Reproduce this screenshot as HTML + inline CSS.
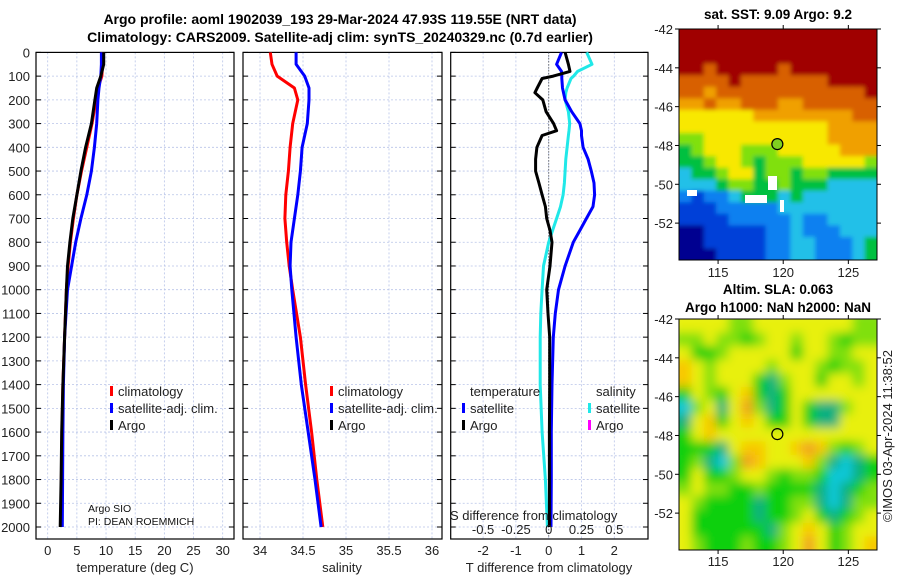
<!DOCTYPE html>
<html><head><meta charset="utf-8"><style>
body{margin:0;background:#fff;}
svg{display:block;font-family:"Liberation Sans","DejaVu Sans",sans-serif;}
</style></head><body>
<svg id="chart" width="900" height="580" viewBox="0 0 900 580" xmlns="http://www.w3.org/2000/svg">
<rect width="900" height="580" fill="#fff"/>
<text x="340" y="24" text-anchor="middle" font-size="14" font-weight="bold">Argo profile: aoml 1902039_193 29-Mar-2024 47.93S 119.55E (NRT data)</text>
<text x="340" y="42" text-anchor="middle" font-size="14" font-weight="bold">Climatology: CARS2009. Satellite-adj clim: synTS_20240329.nc (0.7d earlier)</text>
<g id="panels"></g>
<g id="maps"></g>
<text transform="translate(892,436) rotate(-90)" text-anchor="middle" font-size="13" fill="#222">©IMOS 03-Apr-2024 11:38:52</text>
</svg>
<script>
// ---------- profile data ----------
const depths = [0,50,100,150,200,300,400,500,600,700,800,900,1000,1200,1400,1600,1800,2000];
const tempArgo = [9.6,9.6,9.1,8.4,8.1,7.5,6.5,5.7,5.0,4.3,3.8,3.4,3.2,2.9,2.6,2.4,2.3,2.15];
const tempClim = [9.4,9.4,9.3,8.6,8.3,7.6,6.7,5.8,5.0,4.4,3.9,3.5,3.2,2.9,2.6,2.45,2.35,2.3];
const tempSat  = [9.2,9.2,9.1,8.8,8.6,8.4,8.0,7.5,6.7,5.7,4.8,4.1,3.4,2.9,2.7,2.6,2.55,2.5];
const salClim  = [34.12,34.14,34.2,34.4,34.44,34.38,34.35,34.33,34.30,34.29,34.31,34.34,34.38,34.47,34.53,34.6,34.66,34.73];
const salSat   = [34.42,34.42,34.52,34.57,34.57,34.55,34.49,34.47,34.44,34.40,34.36,34.35,34.37,34.42,34.48,34.56,34.64,34.71];
const tdDepths = [0,50,80,100,110,150,170,200,250,300,330,350,400,450,500,550,600,650,700,750,800,900,1000,1100,1200,1400,1600,1800,2000];
const tDiffArgo = [0.5,0.6,0.65,0.14,-0.2,-0.35,-0.42,-0.18,-0.08,0.15,0.24,-0.2,-0.36,-0.4,-0.4,-0.3,-0.2,-0.1,-0.06,0.04,0.1,0.04,-0.06,-0.02,0.03,0.03,0.02,0.02,0.02];
const tDiffSat  = [0.39,0.24,0.39,0.4,0.4,0.42,0.45,0.5,0.7,0.95,1.0,1.0,1.05,1.2,1.3,1.38,1.4,1.35,1.15,0.95,0.75,0.5,0.3,0.2,0.14,0.1,0.08,0.08,0.07];
const sDiffSat  = [0.29,0.33,0.22,0.19,0.17,0.14,0.13,0.125,0.15,0.16,0.155,0.15,0.14,0.13,0.125,0.12,0.11,0.09,0.06,0.03,0.0,-0.04,-0.05,-0.06,-0.065,-0.065,-0.05,-0.025,-0.01];
const depthTicks = [0,100,200,300,400,500,600,700,800,900,1000,1100,1200,1300,1400,1500,1600,1700,1800,1900,2000];
const tempTicks = [0,5,10,15,20,25,30];
const salTicks = [34,34.5,35,35.5,36];
const tdTicks = [-2,-1,0,1,2];
const sdTicks = [-0.5,-0.25,0,0.25,0.5];
const sdLabels = ["-0.5","-0.25","0","0.25","0.5"];

const NS="http://www.w3.org/2000/svg";
function mk(tag, attrs, parent){const e=document.createElementNS(NS,tag);for(const k in attrs)e.setAttribute(k,attrs[k]);if(parent)parent.appendChild(e);return e;}
const TOP=52.4, BOT=539, PPD=0.2373;
const yD = d => TOP + d*PPD;
const panels=[
 {x0:36,x1:234,xs:v=>47.7+5.833*v,name:'temperature-panel'},
 {x0:243,x1:442,xs:v=>260+86*(v-34),name:'salinity-panel'},
 {x0:450.7,x1:648,xs:v=>548.7+32.8*v,name:'difference-panel'}];
const G=document.getElementById('panels');
panels.forEach((p,i)=>{
 const g=mk('g',{},G);
 
 
 const ticks=[tempTicks,salTicks,tdTicks][i];
 depthTicks.forEach(d=>{const l=mk('line',{x1:p.x0,x2:p.x1,y1:yD(d),y2:yD(d),stroke:'#b8c4e8','stroke-width':0.8,'stroke-dasharray':'2,2'},g);
  
  mk('line',{x1:p.x0,x2:p.x0+5,y1:yD(d),y2:yD(d),stroke:'#000','stroke-width':1},g);
  mk('line',{x1:p.x1-5,x2:p.x1,y1:yD(d),y2:yD(d),stroke:'#000','stroke-width':1},g);});
 ticks.forEach(t=>{const l=mk('line',{x1:p.xs(t),x2:p.xs(t),y1:TOP,y2:BOT,stroke:'#b8c4e8','stroke-width':0.8,'stroke-dasharray':'2,2'},g);
  
  const tx=mk('text',{x:p.xs(t),y:555,'text-anchor':'middle','font-size':13,fill:'#222'},g);tx.textContent=String(t);
  });
 const fr=mk('rect',{x:p.x0,y:TOP,width:p.x1-p.x0,height:BOT-TOP,fill:'none',stroke:'#000','stroke-width':1.2},g);
 
});
depthTicks.forEach(d=>{const t=mk('text',{x:30,y:yD(d)+5,'text-anchor':'end','font-size':13,fill:'#222'},G);t.textContent=String(d);
 });
[['temperature (deg C)',135,'x-axis-title-temperature'],['salinity',342,'x-axis-title-salinity'],['T difference from climatology',549,'x-axis-title-tdiff']].forEach(a=>{
 const t=mk('text',{x:a[1],y:572,'text-anchor':'middle','font-size':13,fill:'#222'},G);t.textContent=a[0];
 });
mk('line',{x1:548.7,x2:548.7,y1:TOP,y2:BOT,stroke:'#333','stroke-width':1,'stroke-dasharray':'1,2'},G);
function line(xs,xv,dv,color,name,w){
 const pts=xv.map((v,i)=>xs(v).toFixed(1)+','+yD(dv[i]).toFixed(1)).join(' ');
 const pl=mk('polyline',{points:pts,fill:'none',stroke:color,'stroke-width':w||3,'stroke-linejoin':'round'},G);
 }
line(panels[0].xs,tempClim,depths,'#ff0000','temp-climatology-line');
line(panels[0].xs,tempSat,depths,'#0000ff','temp-satellite-line');
line(panels[0].xs,tempArgo,depths,'#000','temp-argo-line');
line(panels[1].xs,salClim,depths,'#ff0000','sal-climatology-line');
line(panels[1].xs,salSat,depths,'#0000ff','sal-satellite-line');
line(panels[2].xs,sDiffSat.map(v=>v*4),tdDepths,'#20e8e8','sdiff-satellite-line');
line(panels[2].xs,tDiffSat,tdDepths,'#0000ff','tdiff-satellite-line');
line(panels[2].xs,tDiffArgo,tdDepths,'#000','tdiff-argo-line');
function leg(x,y,color,label,name){const r=mk('rect',{x:x,y:y-10,width:3,height:10,fill:color},G);
 
 const t=mk('text',{x:x+8,y:y,'font-size':13,fill:'#222'},G);t.textContent=label;
 }
leg(110,396,'#ff0000','climatology','legend-climatology');
leg(110,413,'#0000ff','satellite-adj. clim.','legend-satellite-adj');
leg(110,430,'#000','Argo','legend-argo');
leg(330,396,'#ff0000','climatology','legend2-climatology');
leg(330,413,'#0000ff','satellite-adj. clim.','legend2-satellite-adj');
leg(330,430,'#000','Argo','legend2-argo');
leg(462,413,'#0000ff','satellite','legend3-temp-satellite');
leg(462,430,'#000','Argo','legend3-temp-argo');
leg(588,413,'#20e8e8','satellite','legend3-sal-satellite');
leg(588,430,'#ff00ff','Argo','legend3-sal-argo');
[['temperature',470,396,'legend3-temperature-header'],['salinity',596,396,'legend3-salinity-header'],
 ['S difference from climatology',450,520,'s-diff-axis-title']].forEach(a=>{
 const t=mk('text',{x:a[1],y:a[2],'font-size':13,fill:'#222'},G);t.textContent=a[0];
 });
sdTicks.forEach((s,i)=>{const t=mk('text',{x:panels[2].xs(s*4),y:534,'text-anchor':'middle','font-size':13,fill:'#222'},G);t.textContent=sdLabels[i];
 });
[['Argo SIO',88,512],['PI: DEAN ROEMMICH',88,525]].forEach(a=>{const t=mk('text',{x:a[1],y:a[2],'font-size':10.5,fill:'#111'},G);t.textContent=a[0];
 });

// ---------- maps ----------
const sstGrid = [
"9999999999999999","9999999999999999","9999999999999999","9989999989999999",
"8888988888889999","8878888888888889","7787788877888888","6666667777777788",
"6666666666667777","5566666666667777","4566655566666777","4456654555666665",
"3445664554554444","3334554454443333","2122344434333333","1112222233333333",
"1111222223223333","0011111223222333","0011111223322234","0001111223322234"];
const slaGrid = [
"4444334444444433","3343323443443233","4223444442443344","5434444344432334",
"5434442134424434","2432452124444444","0341463124211344","1452454224211444",
"2454444444444444","2221455445653234","2310365444531012","2422344323320012",
"3433223222210123","4322221223310133","4222221223421234","4222222134542344",
"4322232234642345"];
const sstColors=["#000090","#0040d8","#0a80f0","#20c0e8","#00c040","#80e010","#f8e800","#f0a000","#d86000","#a00000"];
const slaColors=["#10c8d8","#10b080","#10d010","#80e010","#e8f010","#f8c800","#f0a020"];
const M=document.getElementById('maps');
function mapPanel(grid,colors,x0,x1,y0,y1,name,filt){
 const g=mk('g',{},M);
 
 
 const clip=mk('clipPath',{id:name+'-clip'},g);mk('rect',{x:x0,y:y0,width:x1-x0,height:y1-y0},clip);
 const inner=mk('g',{'clip-path':'url(#'+name+'-clip)'},g);
 const cg=mk('g',{filter:'url(#'+filt+')'},inner);
 const R=grid.length,C=grid[0].length,cw=(x1-x0)/C,ch=(y1-y0)/R;
 grid.forEach((row,r)=>{for(let c=0;c<C;c++){
  const ex=(c===0?8:0), ey=(r===0?8:0), ex2=(c===C-1?8:0), ey2=(r===R-1?8:0);
  const cell=mk('rect',{x:(x0+c*cw-ex).toFixed(1),y:(y0+r*ch-ey).toFixed(1),width:(cw+0.6+ex+ex2).toFixed(1),height:(ch+0.6+ey+ey2).toFixed(1),fill:colors[+row[c]]},cg);
  }});
 return g;}
const defs=mk('defs',{},M);
const f=mk('filter',{id:'blur',x:'-5%',y:'-5%',width:'110%',height:'110%'},defs);mk('feGaussianBlur',{stdDeviation:5},f);
const f2=mk('filter',{id:'blur2',x:'-5%',y:'-5%',width:'110%',height:'110%'},defs);mk('feGaussianBlur',{stdDeviation:2},f2);
const g1=mapPanel(sstGrid,sstColors,679,877,29,260,'sst-map','blur2');
[[687,190,10,6],[745,195,22,8],[768,176,9,14],[780,200,4,12]].forEach(r=>mk('rect',{x:r[0],y:r[1],width:r[2],height:r[3],fill:'#fff'},g1));
mk('rect',{x:679,y:29,width:198,height:231,fill:'none',stroke:'#000','stroke-width':1},g1);
const g2=mapPanel(slaGrid,slaColors,679,877,319,550,'sla-map','blur');
mk('rect',{x:679,y:319,width:198,height:231,fill:'none',stroke:'#000','stroke-width':1},g2);
const lonTicks=[115,120,125], latTicks=[-42,-44,-46,-48,-50,-52];
function axes(y0,y1,lat0,lat1,labelY){
 const lx=v=>679+(v-112)*(198/15.2); const ly=v=>y0+(v-lat0)/(lat1-lat0)*(y1-y0);
 lonTicks.forEach(v=>{mk('line',{x1:lx(v),x2:lx(v),y1:y1,y2:y1+4,stroke:'#000'},M);mk('line',{x1:lx(v),x2:lx(v),y1:y0,y2:y0-4,stroke:'#000'},M);
  const t=mk('text',{x:lx(v),y:labelY,'text-anchor':'middle','font-size':13,fill:'#222'},M);t.textContent=String(v);
  });
 latTicks.forEach(v=>{mk('line',{x1:877,x2:881,y1:ly(v),y2:ly(v),stroke:'#000'},M);mk('line',{x1:675,x2:679,y1:ly(v),y2:ly(v),stroke:'#000'},M);
  const t=mk('text',{x:673,y:ly(v)+5,'text-anchor':'end','font-size':13,fill:'#222'},M);t.textContent=String(v);
  });
 return [lx,ly];}
const a1=axes(29,260,-42,-53.9,277);
const a2=axes(319,550,-42,-53.9,566);
const floatLon=119.55, floatLat=-47.93;
mk('circle',{cx:a1[0](floatLon),cy:a1[1](floatLat),r:5.5,fill:'#80d020',stroke:'#000','stroke-width':1.2},M);
mk('circle',{cx:a2[0](floatLon),cy:a2[1](floatLat),r:5.5,fill:'none',stroke:'#000','stroke-width':1.2},M);
[['sat. SST: 9.09 Argo: 9.2',778,19,'sst-map-title'],['Altim. SLA: 0.063',778,294,'sla-map-title'],['Argo h1000: NaN h2000: NaN',778,312,'sla-map-subtitle']].forEach(a=>{
 const t=mk('text',{x:a[1],y:a[2],'text-anchor':'middle','font-size':13.5,'font-weight':'bold',fill:'#000'},M);t.textContent=a[0];
 });
</script>
</body></html>
